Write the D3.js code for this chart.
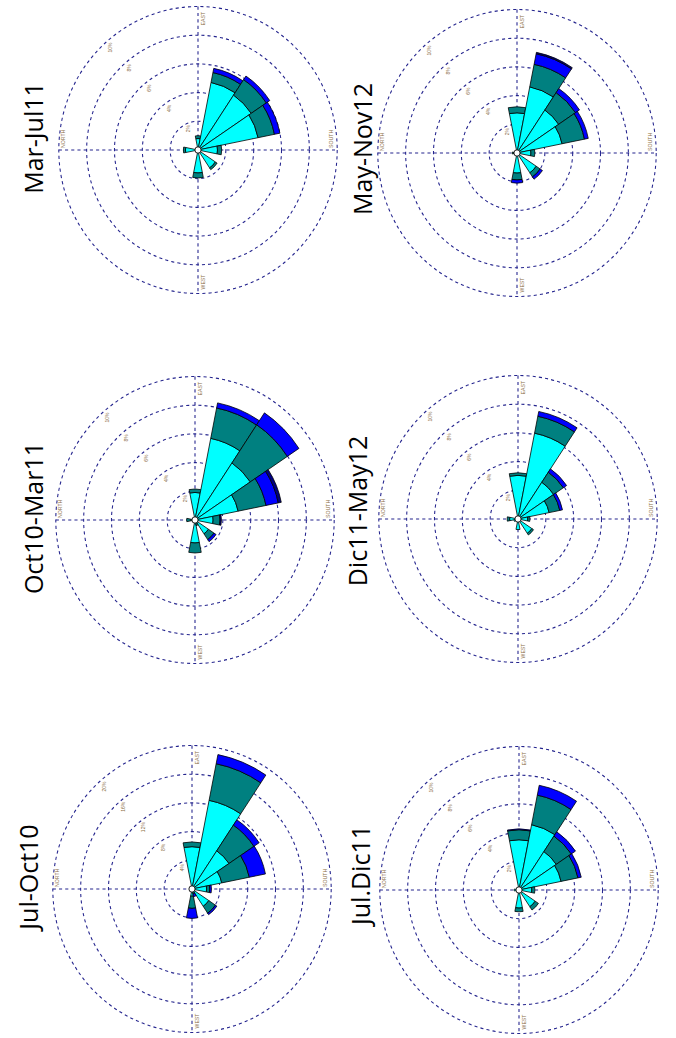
<!DOCTYPE html>
<html>
<head>
<meta charset="utf-8">
<script src="https://cdn.jsdelivr.net/npm/d3@7"></script>
<style>
  html, body { margin: 0; padding: 0; background: #fff; }
  svg { display: block; }
</style>
</head>
<body>
<svg id="chart" width="676" height="1038"></svg>
<script>
// 16-point compass sectors
const directions = ["N","NNE","NE","ENE","E","ESE","SE","SSE","S","SSW","SW","WSW","W","WNW","NW","NNW"];
// wind-speed classes, lightest to strongest
const speedColors = ["#00ffff", "#008080", "#0000ff", "#000080"];

// Frequency (% of time) per direction, one column per speed class
const marJul11 = [
  ["E",   0.8, 0.2,  0,    0],
  ["ESE", 4.8, 0.7,  0.3,  0],
  ["SE",  4.6, 1.3,  0.3,  0],
  ["SSE", 4.4, 1.2,  0.4,  0],
  ["S",   1.4, 0.3,  0,    0],
  ["SW",  1.5, 0.15, 0,    0],
  ["W",   1.6, 0.35, 0,    0],
  ["N",   0.9, 0.15, 0,    0]
];
const mayNov12 = [
  ["E",   2.8, 0.42, 0,    0],
  ["ESE", 4.7, 1.6,  0.75, 0.1],
  ["SE",  3.6, 1.46, 0.34, 0],
  ["SSE", 3.3, 1.64, 0.28, 0],
  ["S",   1.0, 0.28, 0,    0],
  ["SW",  1.66,0.34, 0.2,  0],
  ["W",   1.4, 0.48, 0.22, 0],
  ["N",   0.25,0.1,  0,    0]
];
const oct10Mar11 = [
  ["E",   1.92,0.24, 0,    0],
  ["ESE", 5.8, 2.16, 0.36, 0],
  ["SE",  4.78,3.2,  1.0,  0],
  ["SSE", 3.16,2.04, 0.9,  0.22],
  ["S",   1.3, 0.5,  0,    0.1],
  ["SW",  1.16,0.48, 0.18, 0],
  ["W",   1.6, 0.7,  0,    0],
  ["WSW", 0.3, 0.1,  0,    0],
  ["N",   0.3, 0.3,  0,    0]
];
const dic11May12 = [
  ["E",   3.04,0.18, 0,    0],
  ["ESE", 6.1, 1.2,  0.34, 0],
  ["SE",  3.08,0.84, 0.28, 0],
  ["SSE", 2.28,0.78, 0.2,  0],
  ["S",   0.7, 0.16, 0,    0],
  ["SW",  1.2, 0.14, 0,    0],
  ["W",   0.74,0,    0,    0],
  ["N",   0.6, 0.18, 0,    0],
  ["NNW", 0.3, 0,    0,    0]
];
const julOct10 = [
  ["E",   5.9, 0.66, 0,    0],
  ["ESE", 12.6,5.2,  1.3,  0],
  ["SE",  6.4, 4.3,  0.9,  0],
  ["SSE", 4.36,4.04, 2.36, 0],
  ["S",   2.1, 0.45, 0.25, 0],
  ["SW",  2.9, 1.15, 0.25, 0],
  ["W",   1.0, 1.7,  1.4,  0],
  ["WSW", 0.4, 0.3,  0.4,  0]
];
const julDic11 = [
  ["E",   3.5, 0.7,  0.06, 0],
  ["ESE", 4.64,2.1,  0.7,  0],
  ["SE",  3.22,1.3,  0.36, 0],
  ["SSE", 3.08,1.24, 0.24, 0],
  ["S",   0.92,0.22, 0,    0],
  ["SW",  1.4, 0.28, 0,    0],
  ["W",   1.26,0.26, 0,    0],
  ["N",   0.35,0,    0,    0]
];

const periodTitles = ["Mar-Jul11", "May-Nov12", "Oct10-Mar11", "Dic11-May12", "Jul-Oct10", "Jul.Dic11"];
const ringSteps = [2, 2, 2, 2, 4, 2];   // % per dashed circle
const ringCount = 5;
const compassLabels = ["NORTH", "EAST", "SOUTH", "WEST"];

// page layout: rose centres and title anchors (the page is laid out sideways)
const panels = [
  { title: periodTitles[0], data: marJul11,   step: ringSteps[0], cx: 198, cy: 150, tx: 43,  ty: 138 },
  { title: periodTitles[1], data: mayNov12,   step: ringSteps[1], cx: 517, cy: 153, tx: 372, ty: 149 },
  { title: periodTitles[2], data: oct10Mar11, step: ringSteps[2], cx: 195, cy: 520, tx: 43,  ty: 518 },
  { title: periodTitles[3], data: dic11May12, step: ringSteps[3], cx: 518, cy: 519, tx: 367, ty: 511 },
  { title: periodTitles[4], data: julOct10,   step: ringSteps[4], cx: 192, cy: 889, tx: 38,  ty: 877 },
  { title: periodTitles[5], data: julDic11,   step: ringSteps[5], cx: 519, cy: 890, tx: 370, ty: 875 }
];

const svg = d3.select("#chart");
const outerR = 143.5;      // radius of the outermost circle
const xSquash = 0.97;      // slight horizontal compression of each rose
const sectorWidth = 2 * Math.PI / directions.length;
const gridColor = "#25258e";
const tickColor = "#8a6d45";

// compass bearing -> screen angle (north points left, east points up)
const screenAngle = dir => (directions.indexOf(dir) * 360 / directions.length - 90) * Math.PI / 180;

panels.forEach(p => {
  const r = d3.scaleLinear().domain([0, p.step * ringCount]).range([0, outerR]);
  const g = svg.append("g").attr("transform", `translate(${p.cx},${p.cy}) scale(${xSquash},1)`);

  // dashed range circles
  g.selectAll("circle.ring")
    .data(d3.range(1, ringCount + 1))
    .join("circle")
    .attr("class", "ring")
    .attr("r", k => r(k * p.step))
    .attr("fill", "none")
    .attr("stroke", gridColor)
    .attr("stroke-width", 1.1)
    .attr("stroke-dasharray", "3.2,3.2");

  // dashed cross-hair
  [[-outerR, 0, outerR, 0], [0, -outerR, 0, outerR]].forEach(([x1, y1, x2, y2]) => {
    g.append("line")
      .attr("x1", x1).attr("y1", y1).attr("x2", x2).attr("y2", y2)
      .attr("stroke", gridColor)
      .attr("stroke-width", 1.1)
      .attr("stroke-dasharray", "3.2,3.2");
  });

  // stacked petals
  const arc = d3.arc();
  p.data.forEach(row => {
    const [dir, ...vals] = row;
    const a = screenAngle(dir);
    let cum = 0;
    vals.forEach((v, i) => {
      if (v <= 0) return;
      g.append("path")
        .attr("d", arc({
          innerRadius: r(cum),
          outerRadius: r(cum + v),
          startAngle: a - sectorWidth / 2,
          endAngle: a + sectorWidth / 2
        }))
        .attr("fill", speedColors[i])
        .attr("stroke", "#000")
        .attr("stroke-width", 0.8)
        .attr("stroke-linejoin", "miter");
      cum += v;
    });
  });

  // calm circle
  g.append("circle")
    .attr("r", 3.2)
    .attr("fill", "#fff")
    .attr("stroke", "#000")
    .attr("stroke-width", 0.9);

  // text layer (not squashed)
  const t = svg.append("g").attr("transform", `translate(${p.cx},${p.cy})`);
  const ox = outerR * xSquash;

  // compass labels, written sideways
  const cl = [
    { txt: compassLabels[0], x: -ox + 6.5, y: -2 },
    { txt: compassLabels[1], x: 7,         y: -outerR + 19 },
    { txt: compassLabels[2], x: ox - 4,    y: -2 },
    { txt: compassLabels[3], x: 7,         y: outerR - 4 }
  ];
  cl.forEach(c => {
    t.append("text")
      .attr("transform", `translate(${c.x},${c.y}) rotate(-90)`)
      .attr("font-family", "Liberation Sans, Arial, sans-serif")
      .attr("font-size", 5.2)
      .attr("fill", tickColor)
      .text(c.txt);
  });

  // percentage labels along the upper-left diagonal
  d3.range(1, ringCount + 1).forEach(k => {
    const rr = r(k * p.step);
    t.append("text")
      .attr("transform", `translate(${10 - rr * 0.707 * xSquash},${-1 - rr * 0.707}) rotate(-90)`)
      .attr("text-anchor", "middle")
      .attr("dominant-baseline", "central")
      .attr("font-family", "Liberation Sans, Arial, sans-serif")
      .attr("font-size", 5)
      .attr("fill", tickColor)
      .text(`${k * p.step}%`);
  });

  // period title
  svg.append("text")
    .attr("transform", `translate(${p.tx},${p.ty}) rotate(-90)`)
    .attr("text-anchor", "middle")
    .attr("font-family", "Open Sans, sans-serif")
    .attr("font-size", 25)
    .attr("fill", "#000")
    .text(p.title);
});
</script>
</body>
</html>
